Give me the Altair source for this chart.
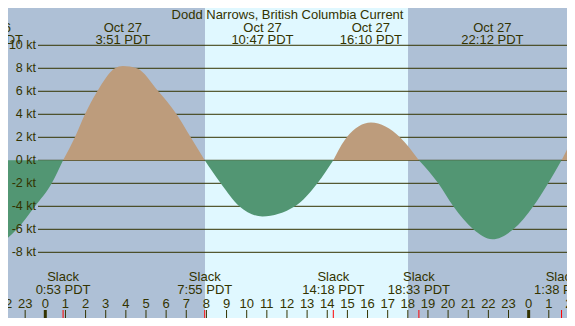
import altair as alt
import pandas as pd

# ---------------- data (hours after midnight, Oct 27 PDT; knots) ----------------
ebb0_h = [-3.6, -2.65, -2.25, -1.42, -0.51, 0.32, 0.883]
ebb0_v = [-6.9, -7.35, -7.2, -6.0, -4.0, -2.0, 0.0]

flood1_h = [0.883, 1.47, 1.97, 2.58, 3.46, 3.85, 4.54, 5.61, 6.52, 7.22, 7.917]
flood1_v = [0.0, 2.0, 4.0, 6.0, 8.0, 8.2, 8.0, 6.0, 4.0, 2.0, 0.0]

ebb1_h = [7.917, 8.71, 9.63, 10.78, 12.40, 13.51, 14.30]
ebb1_v = [0.0, -2.0, -4.0, -4.88, -4.0, -2.0, 0.0]

flood2_h = [14.30, 14.97, 16.17, 17.61, 18.55]
flood2_v = [0.0, 2.0, 3.28, 2.0, 0.0]

ebb2_h = [18.55, 19.51, 20.26, 21.25, 22.20, 23.24, 24.23, 24.97, 25.633]
ebb2_v = [0.0, -2.0, -4.0, -6.0, -6.87, -6.0, -4.0, -2.0, 0.0]

flood3_h = [25.633, 26.22, 26.8]
flood3_v = [0.0, 2.0, 3.8]

# max / min events (top labels)
event_h = [-2.65, 3.85, 10.783, 16.167, 22.2]
event_date = ["Oct 26", "Oct 27", "Oct 27", "Oct 27", "Oct 27"]
event_time = ["21:21 PDT", "3:51 PDT", "10:47 PDT", "16:10 PDT", "22:12 PDT"]

# slack events (bottom labels)
slack_h = [0.883, 7.917, 14.3, 18.55, 25.633]
slack_time = ["0:53 PDT", "7:55 PDT", "14:18 PDT", "18:33 PDT", "1:38 PDT"]

# daylight
sunrise_h = 7.93
sunset_h = 18.01

# y axis labels
kt_levels = [10, 8, 6, 4, 2, 0, -2, -4, -6, -8]

# hour ticks
hours = list(range(-2, 27))

title_text = "Dodd Narrows, British Columbia Current"

# ---------------- styling ----------------
W, H = 559, 310
BG = "#aec0d6"
DAY = "#e0f8ff"
FLOOD = "#bd9c7c"
EBB = "#529673"
INK = "#333300"
FONT = "Liberation Sans"
FS = 13

xs = alt.Scale(domain=[-1.852, 25.904], nice=False, zero=False)
ys = alt.Scale(domain=[-13.713, 13.243], nice=False, zero=False)

# ---------------- tables ----------------
rows = []
for seg, (hh, vv, kind) in enumerate([
    (ebb0_h, ebb0_v, "ebb"), (flood1_h, flood1_v, "flood"),
    (ebb1_h, ebb1_v, "ebb"), (flood2_h, flood2_v, "flood"),
    (ebb2_h, ebb2_v, "ebb"), (flood3_h, flood3_v, "flood")]):
    for h, v in zip(hh, vv):
        rows.append({"h": h, "v": v, "seg": seg, "kind": kind})
curve = pd.DataFrame(rows)

day_df = pd.DataFrame({"start": [sunrise_h], "end": [sunset_h]})
kt_df = pd.DataFrame({"kt": kt_levels, "label": [f"{k} kt" for k in kt_levels]})
ev_df = pd.DataFrame({"h": event_h, "date": event_date, "time": event_time})
sl_df = pd.DataFrame({"h": slack_h, "time": slack_time, "word": ["Slack"] * len(slack_h)})
hr_df = pd.DataFrame({"h": hours, "label": [str(h % 24) for h in hours],
                      "midnight": [h % 24 == 0 for h in hours]})
title_df = pd.DataFrame({"t": [title_text]})

X = lambda f: alt.X(f, type="quantitative", scale=xs, axis=None)

day = alt.Chart(day_df).mark_rect(color=DAY).encode(
    x=X("start"), x2="end", y=alt.value(0), y2=alt.value(H))

grid = alt.Chart(kt_df).mark_rule(color=INK, strokeWidth=1).encode(
    y=alt.Y("kt:Q", scale=ys, axis=None), x=alt.value(30), x2=alt.value(W))

areas = alt.Chart(curve).mark_area(interpolate="monotone", clip=True).encode(
    x=X("h"),
    y=alt.Y("v:Q", scale=ys, axis=None, stack=None),
    y2=alt.datum(0),
    color=alt.Color("kind:N", scale=alt.Scale(domain=["flood", "ebb"], range=[FLOOD, EBB]), legend=None),
    detail="seg:N",
)

kt_labels = alt.Chart(kt_df).mark_text(align="right", baseline="middle", font=FONT, fontSize=12.5, color=INK).encode(
    y=alt.Y("kt:Q", scale=ys, axis=None), x=alt.value(28), text="label:N")

txt = dict(align="center", baseline="middle", font=FONT, fontSize=FS, color=INK)

ev_date = alt.Chart(ev_df).mark_text(**txt).encode(x=X("h"), y=alt.value(19.5), text="date:N")
ev_time = alt.Chart(ev_df).mark_text(**txt).encode(x=X("h"), y=alt.value(31.5), text="time:N")

title = alt.Chart(title_df).mark_text(**txt).encode(x=alt.value(279.5), y=alt.value(7), text="t:N")

sl_word = alt.Chart(sl_df).mark_text(**txt).encode(x=X("h"), y=alt.value(268.5), text="word:N")
sl_time = alt.Chart(sl_df).mark_text(**txt).encode(x=X("h"), y=alt.value(282), text="time:N")

hr_text = alt.Chart(hr_df).mark_text(**txt).encode(x=X("h"), y=alt.value(295.7), text="label:N")

hr_ticks = alt.Chart(hr_df).transform_filter("!datum.midnight").mark_rule(color=INK, strokeWidth=1).encode(
    x=X("h"), y=alt.value(302), y2=alt.value(H))
mid_ticks = alt.Chart(hr_df).transform_filter("datum.midnight").mark_rule(color=INK, strokeWidth=3).encode(
    x=X("h"), y=alt.value(302), y2=alt.value(H))
sl_ticks = alt.Chart(sl_df).mark_rule(color="#ff0000", strokeWidth=1).encode(
    x=X("h"), y=alt.value(302), y2=alt.value(H))

chart = alt.layer(
    day, grid, areas, kt_labels, ev_date, ev_time, title,
    sl_word, sl_time, hr_text, hr_ticks, mid_ticks, sl_ticks
).properties(
    width=W, height=H, padding=0, background=BG,
    autosize=alt.AutoSizeParams(type="none"),
).configure_view(strokeWidth=0, fill=BG)

chart.save("out.html", embed_options={"renderer": "svg", "actions": False})
